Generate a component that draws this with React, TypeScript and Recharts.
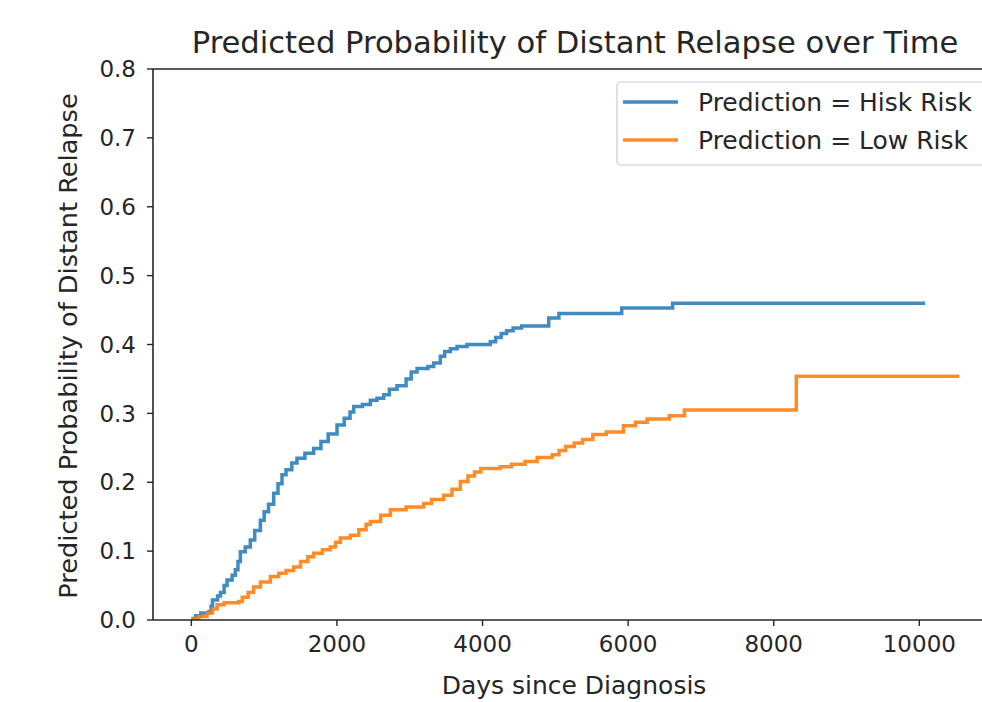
import React from 'react';
import { LineChart, Line, XAxis, YAxis, ReferenceLine } from 'recharts';

// Predicted probability curves (days, probability)
const highRiskDays = [
  0, 60, 130, 240, 270, 290, 360, 400, 450, 490, 560, 604, 640, 673, 740, 810, 870, 948,
  1000, 1060, 1131, 1190, 1245, 1300, 1380, 1451, 1560, 1680, 1780, 1880, 2001, 2100,
  2180, 2230, 2350, 2459, 2550, 2642, 2720, 2825, 2950, 3020, 3100, 3250, 3329, 3420,
  3480, 3558, 3650, 3787, 4107, 4180, 4257, 4330, 4420, 4537, 4909, 5049, 5912, 6611, 10080,
];
const highRiskProb = [
  0.002, 0.006, 0.01, 0.012, 0.02, 0.029, 0.035, 0.04, 0.05, 0.058, 0.065, 0.073, 0.085,
  0.099, 0.106, 0.116, 0.13, 0.145, 0.157, 0.168, 0.184, 0.198, 0.211, 0.218, 0.228, 0.235,
  0.242, 0.249, 0.259, 0.27, 0.283, 0.293, 0.302, 0.31, 0.313, 0.319, 0.322, 0.327, 0.335,
  0.34, 0.35, 0.36, 0.365, 0.368, 0.373, 0.383, 0.39, 0.394, 0.397, 0.4, 0.404, 0.41, 0.416,
  0.42, 0.424, 0.427, 0.4385, 0.445, 0.453, 0.46, 0.46,
];

const lowRiskDays = [
  0, 100, 215, 290, 353, 450, 650, 700, 780, 856, 950, 1085, 1200, 1300, 1405, 1500, 1600,
  1680, 1800, 1909, 1980, 2047, 2184, 2300, 2400, 2459, 2600, 2734, 2950, 3191, 3300, 3466,
  3580, 3695, 3800, 3890, 3977, 4244, 4400, 4584, 4750, 4956, 5050, 5143, 5260, 5375, 5515,
  5700, 5936, 6100, 6261, 6565, 6773, 8310, 10550,
];
const lowRiskProb = [
  0.002, 0.005, 0.01, 0.016, 0.022, 0.025, 0.027, 0.033, 0.04, 0.048, 0.055, 0.063, 0.068,
  0.072, 0.077, 0.085, 0.092, 0.097, 0.102, 0.106, 0.113, 0.119, 0.123, 0.131, 0.139, 0.143,
  0.152, 0.16, 0.164, 0.169, 0.175, 0.181, 0.19, 0.201, 0.209, 0.215, 0.22, 0.2226, 0.226,
  0.23, 0.236, 0.24, 0.246, 0.252, 0.257, 0.262, 0.2695, 0.273, 0.282, 0.287, 0.2917, 0.2966,
  0.305, 0.354, 0.354,
];

const xTicks = [0, 2000, 4000, 6000, 8000, 10000];
const yTicks = [0, 0.1, 0.2, 0.3, 0.4, 0.5, 0.6, 0.7, 0.8];

const BLUE = '#1f77b4';
const ORANGE = '#ff7f0e';
const INK = '#262626';
const FONT = '"DejaVu Sans", sans-serif';

const highData = highRiskDays.map((d, i) => ({ d, p: highRiskProb[i] }));
const lowData = lowRiskDays.map((d, i) => ({ d, p: lowRiskProb[i] }));

export default function App() {
  const tickStyle = { fontSize: 23, fill: INK, fontFamily: FONT };

  return (
    <div
      style={{
        position: 'absolute',
        left: 0,
        top: 0,
        width: 982,
        height: 702,
        overflow: 'hidden',
        background: '#fff',
      }}
    >
      <LineChart
        width={1000}
        height={702}
        margin={{ top: 69, right: 3, bottom: 42, left: 93 }}
      >
        <XAxis
          type="number"
          dataKey="d"
          domain={[-527, 11067]}
          ticks={xTicks}
          allowDataOverflow
          height={40}
          tick={tickStyle}
          tickSize={6}
          tickMargin={10}
          axisLine={{ stroke: INK, strokeWidth: 1.6 }}
          tickLine={{ stroke: INK, strokeWidth: 1.4 }}
        />
        <YAxis
          type="number"
          domain={[0, 0.8]}
          ticks={yTicks}
          allowDataOverflow
          width={60}
          tick={tickStyle}
          tickSize={6}
          tickMargin={11}
          tickFormatter={(v: number) => v.toFixed(1)}
          axisLine={{ stroke: INK, strokeWidth: 1.6 }}
          tickLine={{ stroke: INK, strokeWidth: 1.4 }}
        />
        <ReferenceLine y={0.8} stroke={INK} strokeWidth={1.6} />
        <Line
          data={highData}
          dataKey="p"
          type="stepAfter"
          stroke={BLUE}
          strokeOpacity={0.85}
          strokeWidth={3.5}
          dot={false}
          isAnimationActive={false}
        />
        <Line
          data={lowData}
          dataKey="p"
          type="stepAfter"
          stroke={ORANGE}
          strokeOpacity={0.9}
          strokeWidth={3.5}
          dot={false}
          isAnimationActive={false}
        />
      </LineChart>

      {/* title, axis labels and legend */}
      <svg
        width={982}
        height={702}
        style={{ position: 'absolute', left: 0, top: 0, pointerEvents: 'none' }}
        fontFamily={FONT}
        fill={INK}
      >
        <text x={575} y={53} fontSize={30.6} textAnchor="middle">
          Predicted Probability of Distant Relapse over Time
        </text>
        <text x={574} y={694} fontSize={25} textAnchor="middle">
          Days since Diagnosis
        </text>
        <text
          x={77}
          y={346}
          fontSize={25.6}
          textAnchor="middle"
          transform="rotate(-90 77 346)"
        >
          Predicted Probability of Distant Relapse
        </text>

        <rect x={617} y={82} width={400} height={83} rx={4} fill="#fff" fillOpacity={0.8} stroke="#cccccc" strokeWidth={1.2} />
        <line x1={623} x2={678} y1={102} y2={102} stroke={BLUE} strokeOpacity={0.85} strokeWidth={3.5} />
        <line x1={623} x2={678} y1={140} y2={140} stroke={ORANGE} strokeOpacity={0.9} strokeWidth={3.5} />
        <text x={698} y={111} fontSize={25}>Prediction = Hisk Risk</text>
        <text x={698} y={149} fontSize={25}>Prediction = Low Risk</text>
      </svg>
    </div>
  );
}
